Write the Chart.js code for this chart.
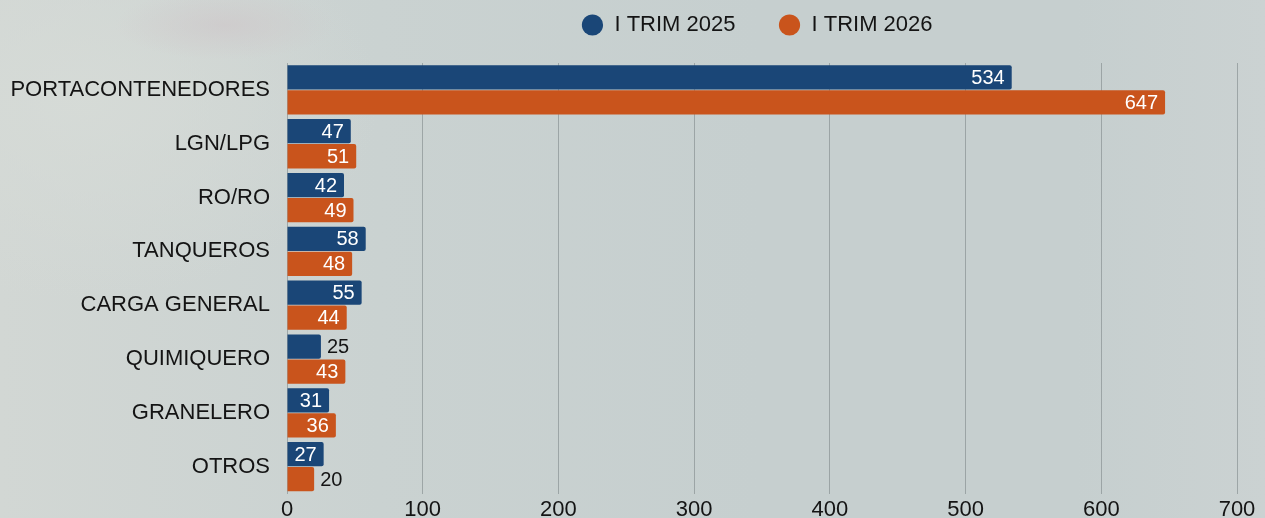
<!DOCTYPE html>
<html>
<head>
<meta charset="utf-8">
<script src="https://cdn.jsdelivr.net/npm/chart.js@4.4.1/dist/chart.umd.min.js"></script>
<style>
  html, body { margin: 0; padding: 0; }
  body {
    width: 1265px; height: 518px; overflow: hidden;
    background:
      radial-gradient(ellipse 110px 35px at 225px 25px, rgba(206,200,202,0.7), rgba(206,200,202,0) 100%),
      radial-gradient(ellipse 300px 200px at 80px 100px, rgba(214,219,215,0.9), rgba(214,219,215,0) 100%),
      linear-gradient(90deg, #d2d7d4 0%, #cad2d1 30%, #c6cfcf 60%, #c6cfcf 85%, #cbd2d2 100%);
  }
  #wrap { position: relative; width: 1265px; height: 518px; }
</style>
</head>
<body>
<div id="wrap"><canvas id="bar-chart"></canvas></div>
<script>
const categories = ['PORTACONTENEDORES', 'LGN/LPG', 'RO/RO', 'TANQUEROS', 'CARGA GENERAL', 'QUIMIQUERO', 'GRANELERO', 'OTROS'];
const trim2025 = [534, 47, 42, 58, 55, 25, 31, 27];
const trim2026 = [647, 51, 49, 48, 44, 43, 36, 20];
const seriesNames = ['I TRIM 2025', 'I TRIM 2026'];
const xTicks = [0, 100, 200, 300, 400, 500, 600, 700];

const blue = '#1a4677';
const orange = '#c9541c';

// legend: keep row near the top, fixed height, nudged left a bit
const legendFit = {
  id: 'legendFit',
  beforeLayout(chart) {
    const lg = chart.legend;
    if (!lg || lg._patched) return;
    const fit = lg.fit;
    lg.fit = function () { fit.call(this); this.height = 92; };
    const draw = lg.draw;
    lg.draw = function () {
      this.ctx.save();
      this.ctx.translate(-5, 0);
      draw.call(this);
      this.ctx.restore();
    };
    lg._patched = true;
  }
};

// value labels at bar ends
const valueLabels = {
  id: 'valueLabels',
  afterDatasetsDraw(chart) {
    const ctx = chart.ctx;
    ctx.save();
    ctx.font = '20px "Liberation Sans", Arial, sans-serif';
    ctx.textBaseline = 'middle';
    chart.data.datasets.forEach((ds, i) => {
      chart.getDatasetMeta(i).data.forEach((bar, j) => {
        const txt = String(ds.data[j]);
        const w = ctx.measureText(txt).width;
        const barW = bar.x - bar.base;
        if (barW > w + 13) {
          ctx.fillStyle = '#ffffff';
          ctx.textAlign = 'right';
          ctx.fillText(txt, bar.x - 7, bar.y + 1);
        } else {
          ctx.fillStyle = '#141414';
          ctx.textAlign = 'left';
          ctx.fillText(txt, bar.x + 6, bar.y + 1);
        }
      });
    });
    ctx.restore();
  }
};

new Chart(document.getElementById('bar-chart'), {
  type: 'bar',
  data: {
    labels: categories,
    datasets: [
      { label: seriesNames[0], data: trim2025, backgroundColor: blue, borderRadius: 2, borderSkipped: 'start' },
      { label: seriesNames[1], data: trim2026, backgroundColor: orange, borderRadius: 2, borderSkipped: 'start' }
    ]
  },
  options: {
    indexAxis: 'y',
    responsive: true,
    maintainAspectRatio: false,
    animation: false,
    datasets: { bar: { categoryPercentage: 0.93, barPercentage: 0.97 } },
    layout: { padding: { top: -29, right: 28, bottom: -8, left: 0 } },
    plugins: {
      tooltip: { enabled: false },
      legend: {
        position: 'top',
        fullSize: false,
        labels: {
          usePointStyle: true,
          pointStyle: 'circle',
          boxHeight: 15,
          padding: 43,
          color: '#141414',
          font: { family: '"Liberation Sans", Arial, sans-serif', size: 22 }
        }
      }
    },
    scales: {
      x: {
        min: 0,
        max: 700,
        afterBuildTicks: (s) => { s.ticks = xTicks.map(v => ({ value: v })); },
        grid: { color: 'rgba(120,130,132,0.55)', lineWidth: 1, drawTicks: false },
        border: { display: false },
        ticks: { padding: 3, color: '#141414', font: { family: '"Liberation Sans", Arial, sans-serif', size: 22 } }
      },
      y: {
        afterFit: (s) => { s.width = 287; },
        grid: { display: false },
        border: { display: false },
        ticks: { padding: 9, color: '#141414', font: { family: '"Liberation Sans", Arial, sans-serif', size: 22 } }
      }
    }
  },
  plugins: [legendFit, valueLabels]
});
</script>
</body>
</html>
